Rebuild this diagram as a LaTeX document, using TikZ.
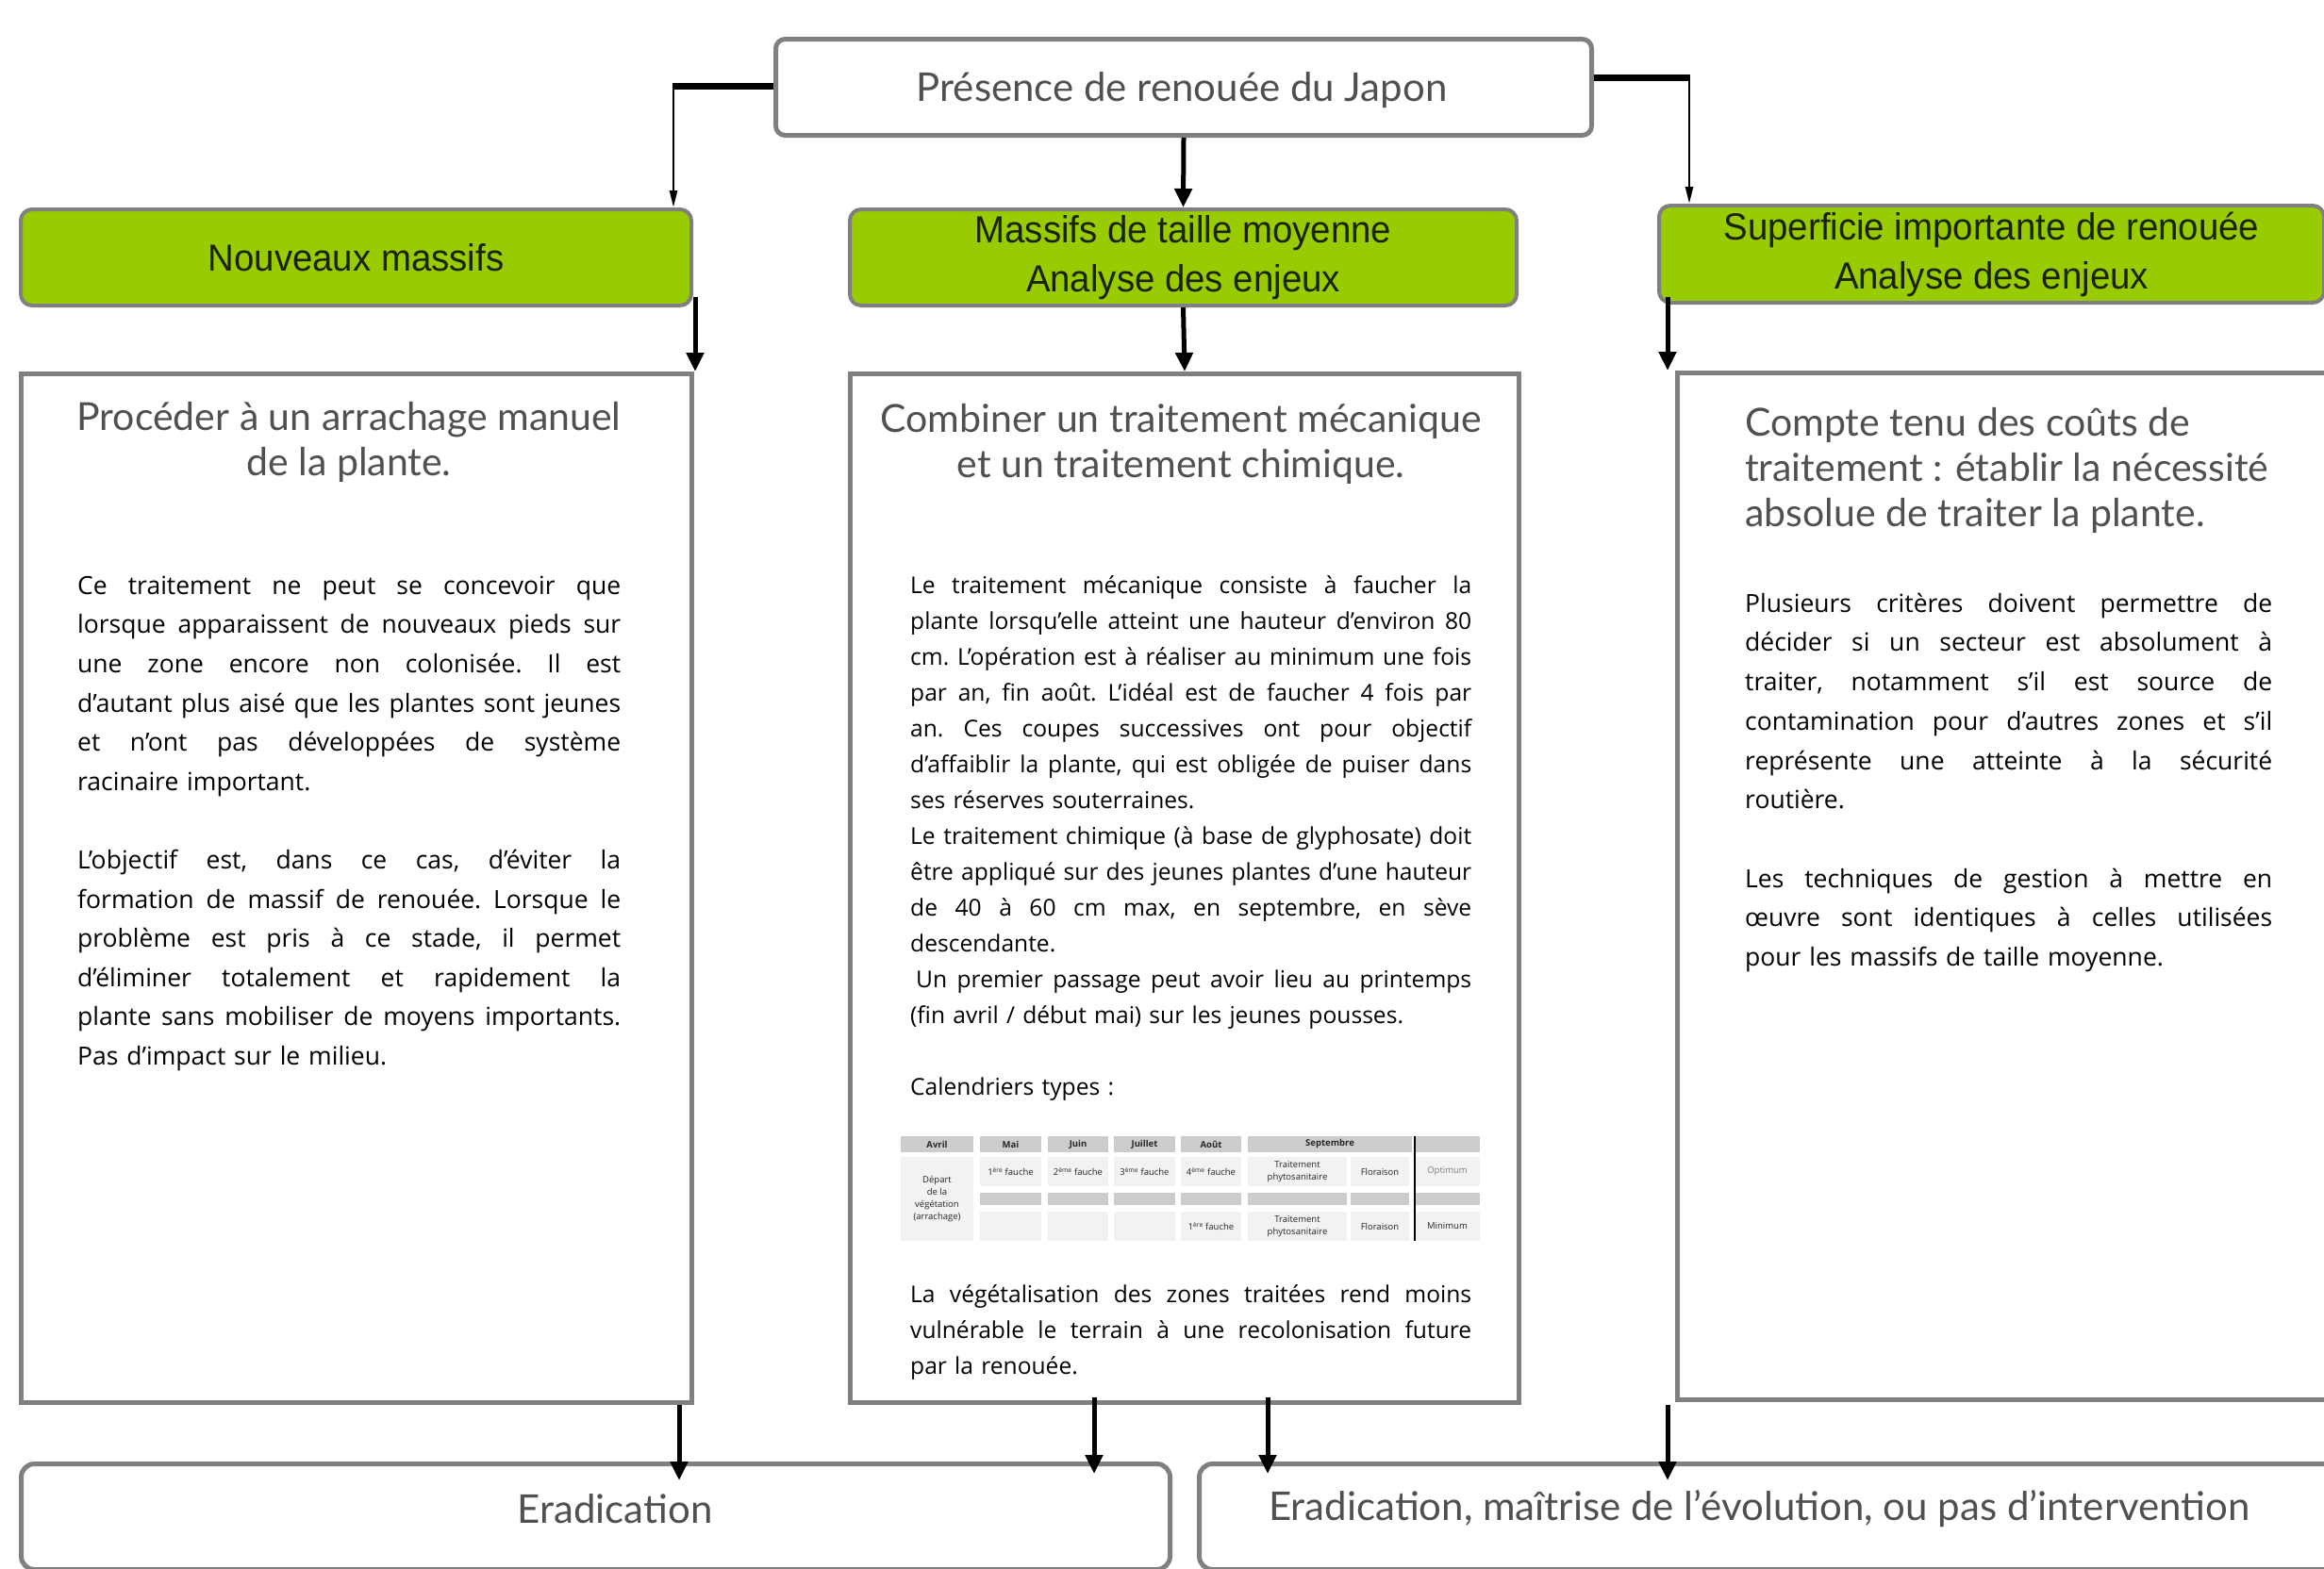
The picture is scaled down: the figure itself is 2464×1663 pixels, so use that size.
\documentclass[tikz,border=0pt]{standalone}
\usepackage{fontspec}
\setmainfont{Open Sans}
\newfontfamily\headfont{Lato}
\newfontfamily\condfont[FakeStretch=0.96]{Liberation Sans}
\newfontfamily\thinfont{Lato}
\usetikzlibrary{arrows.meta}
\definecolor{boxgreen}{HTML}{99CC00}
\definecolor{bordergray}{HTML}{808080}
\definecolor{headgray}{HTML}{505050}
\definecolor{cellgray}{HTML}{CCCCCC}
\definecolor{celllight}{HTML}{F2F2F2}
\definecolor{greentext}{HTML}{1A2200}
\newlength\bw
\newcommand\jl[1]{\makebox[\bw][s]{\spaceskip=0pt\xspaceskip=0pt #1}\\}
\newcommand\tcell[7]{\node[tcellbox, fill=#5, minimum width={#3-#1}, minimum height={#4-#2}] (#6) at ({(#1+#3)/2},{(#2+#4)/2}) {#7};}
\begin{document}
\begin{tikzpicture}[x=1pt,y=-1pt,
  graybox/.style={draw=bordergray, line width=5pt, fill=white, anchor=north west, inner sep=0pt},
  roundbox/.style={graybox, rounded corners=14pt},
  greenbox/.style={draw=bordergray, line width=4pt, fill=boxgreen, rounded corners=12pt, anchor=north west, inner sep=0pt, align=center, text=greentext, font=\condfont\fontsize{40}{52}\selectfont},
  head/.style={inner sep=0pt, text=headgray, font=\headfont\fontsize{41}{48}\selectfont},
  body/.style={inner sep=0pt, anchor=north west, align=left, text=black},
  boxlabel/.style={inner sep=0pt, text=headgray, font=\thinfont\fontsize{42}{50}\selectfont},
  bigarr/.style={line width=5pt, -{Triangle[width=18pt,length=20pt]}},
  thinarr/.style={line width=2.5pt, -{Triangle[width=8pt,length=18pt]}},
  thickline/.style={line width=7pt},
  tcellbox/.style={inner sep=0pt, draw=none, align=center, text=black!85, font=\fontsize{9.5}{13}\selectfont}
]
\useasboundingbox (0,0) rectangle (2464,1663);
\fill[white] (0,0) rectangle (2464,1663);

% top box
\node[roundbox, rounded corners=10pt, minimum width=865, minimum height=102] (top) at (820,39) {};
\node[boxlabel] (toplabel) at (1253,96) {Présence de renouée du Japon};

% green boxes
\node[greenbox, minimum width=711, minimum height=102] (g1) at (20,220) {Nouveaux massifs};
\node[greenbox, minimum width=707, minimum height=102] (g2) at (899,220) {Massifs de taille moyenne\\Analyse des enjeux};
\node[greenbox, minimum width=705, minimum height=103] (g3) at (1757,216) {Superficie importante de renouée\\Analyse des enjeux};

% content boxes
\node[graybox, minimum width=711, minimum height=1091] (c1) at (20,394) {};
\node[graybox, minimum width=709, minimum height=1091] (c2) at (899,394) {};
\node[graybox, minimum width=740, minimum height=1089] (c3) at (1776,393) {};

% bottom boxes
\node[roundbox, minimum width=1218, minimum height=112] (b1) at (20,1550) {};
\node[roundbox, minimum width=1240, minimum height=112] (b2) at (1269,1550) {};
\node[boxlabel] (b1label) at (652,1600) {Eradication};
\node[boxlabel, anchor=west] (b2label) at (1345,1600) {Eradication, maîtrise de l’évolution, ou pas d’intervention};

% headings
\node[head, anchor=north, align=center] (h1) at (370,423) {\rule{0pt}{33pt}Procéder à un arrachage manuel\\de la plante.};
\node[head, anchor=north, align=center] (h2) at (1252,425) {\rule{0pt}{33pt}Combiner un traitement mécanique\\et un traitement chimique.};
\node[head, anchor=north west, align=left] (h3) at (1850,429) {\rule{0pt}{33pt}Compte tenu des coûts de\\traitement : établir la nécessité\\absolue de traiter la plante.};

% left body
\node[body, text width=576, font=\fontsize{26.5}{41.6}\selectfont] (t1) at (82,608) {%
\frenchspacing\setlength\bw{576pt}%
\jl{\rule{0pt}{22pt}Ce traitement ne peut se concevoir que}
\jl{lorsque apparaissent de nouveaux pieds sur}
\jl{une zone encore non colonisée. Il est}
\jl{d’autant plus aisé que les plantes sont jeunes}
\jl{et n’ont pas développées de système}
racinaire important.\\[41.6pt]
\jl{L’objectif est, dans ce cas, d’éviter la}
\jl{formation de massif de renouée. Lorsque le}
\jl{problème est pris à ce stade, il permet}
\jl{d’éliminer totalement et rapidement la}
\jl{plante sans mobiliser de moyens importants.}
Pas d’impact sur le milieu.};

% center body
\node[body, text width=595, font=\fontsize{24.6}{38}\selectfont] (t2) at (965,609) {%
\frenchspacing\setlength\bw{595pt}%
\jl{\rule{0pt}{20pt}Le traitement mécanique consiste à faucher la}
\jl{plante lorsqu’elle atteint une hauteur d’environ 80}
\jl{cm. L’opération est à réaliser au minimum une fois}
\jl{par an, fin août. L’idéal est de faucher 4 fois par}
\jl{an. Ces coupes successives ont pour objectif}
\jl{d’affaiblir la plante, qui est obligée de puiser dans}
ses réserves souterraines.\\
\jl{Le traitement chimique (à base de glyphosate) doit}
\jl{être appliqué sur des jeunes plantes d’une hauteur}
\jl{de 40 à 60 cm max, en septembre, en sève}
descendante.\\
\jl{\hspace{6pt}Un premier passage peut avoir lieu au printemps}
(fin avril / début mai) sur les jeunes pousses.\\[38pt]
Calendriers types :};

\node[body, text width=595, font=\fontsize{24.6}{38}\selectfont] (t2b) at (965,1361) {%
\frenchspacing\setlength\bw{595pt}%
\jl{\rule{0pt}{20pt}La végétalisation des zones traitées rend moins}
\jl{vulnérable le terrain à une recolonisation future}
par la renouée.};

% right body
\node[body, text width=559, font=\fontsize{26.5}{41.7}\selectfont] (t3) at (1850,627) {%
\frenchspacing\setlength\bw{559pt}%
\jl{\rule{0pt}{22pt}Plusieurs critères doivent permettre de}
\jl{décider si un secteur est absolument à}
\jl{traiter, notamment s’il est source de}
\jl{contamination pour d’autres zones et s’il}
\jl{représente une atteinte à la sécurité}
routière.\\[41.7pt]
\jl{Les techniques de gestion à mettre en}
\jl{œuvre sont identiques à celles utilisées}
pour les massifs de taille moyenne.};

% calendar table
\tcell{955}{1205}{1032}{1222}{cellgray}{th1}{\textbf{Avril}}
\tcell{1039}{1205}{1104}{1222}{cellgray}{th2}{\textbf{Mai}}
\tcell{1111}{1205}{1175}{1222}{cellgray}{th3}{\textbf{Juin}}
\tcell{1181}{1205}{1246}{1222}{cellgray}{th4}{\textbf{Juillet}}
\tcell{1252}{1205}{1316}{1222}{cellgray}{th5}{\textbf{Août}}
\tcell{1323}{1205}{1497}{1222}{cellgray}{th6}{\textbf{Septembre}}
\tcell{1500}{1205}{1569}{1222}{cellgray}{th7}{}
\tcell{955}{1227}{1032}{1316}{celllight}{ta1}{Départ\\de la\\végétation\\(arrachage)}
\tcell{1039}{1227}{1104}{1258}{celllight}{ta2}{1\textsuperscript{ère} fauche}
\tcell{1111}{1227}{1175}{1258}{celllight}{ta3}{2\textsuperscript{ème} fauche}
\tcell{1181}{1227}{1246}{1258}{celllight}{ta4}{3\textsuperscript{ème} fauche}
\tcell{1252}{1227}{1316}{1258}{celllight}{ta5}{4\textsuperscript{ème} fauche}
\tcell{1323}{1227}{1428}{1258}{celllight}{ta6}{Traitement\\phytosanitaire}
\tcell{1432}{1227}{1494}{1258}{celllight}{ta7}{Floraison}
\tcell{1500}{1227}{1569}{1258}{celllight}{ta8}{\textcolor{black!50}{Optimum}}
\tcell{1039}{1265}{1104}{1278}{cellgray}{ts2}{}
\tcell{1111}{1265}{1175}{1278}{cellgray}{ts3}{}
\tcell{1181}{1265}{1246}{1278}{cellgray}{ts4}{}
\tcell{1252}{1265}{1316}{1278}{cellgray}{ts5}{}
\tcell{1323}{1265}{1428}{1278}{cellgray}{ts6}{}
\tcell{1432}{1265}{1494}{1278}{cellgray}{ts7}{}
\tcell{1500}{1265}{1569}{1278}{cellgray}{ts8}{}
\tcell{1039}{1285}{1104}{1316}{celllight}{tb2}{}
\tcell{1111}{1285}{1175}{1316}{celllight}{tb3}{}
\tcell{1181}{1285}{1246}{1316}{celllight}{tb4}{}
\tcell{1252}{1285}{1316}{1316}{celllight}{tb5}{1\textsuperscript{ère} fauche}
\tcell{1323}{1285}{1428}{1316}{celllight}{tb6}{Traitement\\phytosanitaire}
\tcell{1432}{1285}{1494}{1316}{celllight}{tb7}{Floraison}
\tcell{1500}{1285}{1569}{1316}{celllight}{tb8}{Minimum}
\draw[line width=2.5pt] (th7.north west) -- (tb8.south west);

% connectors from top box
\draw[bigarr] (top.south) -- (g2.north);
\coordinate (tlc) at (714,91);
\draw[thickline] (top.west |- tlc) -- ([xshift=-1.25pt]tlc);
\draw[thinarr] ([yshift=3pt]tlc) -- (tlc |- g1.north);
\coordinate (trc) at (1791,82);
\draw[thickline] (top.east |- trc) -- ([xshift=1.25pt]trc);
\draw[thinarr] ([yshift=3pt]trc) -- (trc |- g3.north);

% green to content
\coordinate (a1) at (737,315);
\draw[bigarr] (a1) -- (a1 |- c1.north);
\draw[bigarr] (g2.south) -- (c2.north);
\coordinate (a3) at (1768,315);
\draw[bigarr] (a3) -- (a3 |- c3.north);

% content to bottom
\coordinate (d1) at (720,1490);
\draw[bigarr, shorten >=-20pt] (d1) -- (d1 |- b1.north);
\coordinate (d2) at (1160,1482);
\draw[bigarr, shorten >=-13pt] (d2) -- (d2 |- b1.north);
\coordinate (d3) at (1344,1482);
\draw[bigarr, shorten >=-13pt] (d3) -- (d3 |- b2.north);
\coordinate (d4) at (1768,1490);
\draw[bigarr, shorten >=-20pt] (d4) -- (d4 |- b2.north);
\end{tikzpicture}
\end{document}
